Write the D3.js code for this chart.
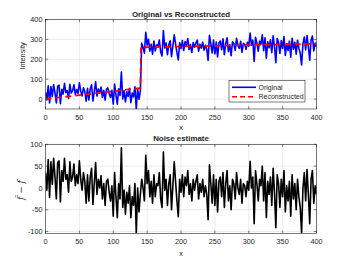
<!DOCTYPE html>
<html>
<head>
<meta charset="utf-8">
<script src="https://cdn.jsdelivr.net/npm/d3@7"></script>
<style>
  body { margin: 0; background: #fff; }
  text { font-family: "Liberation Sans", Arial, sans-serif; fill: #262626; }
</style>
</head>
<body>
<svg id="chart" width="350" height="263"></svg>
<script>
const sampleX = d3.range(0, 401, 2);

// original signal f (blue)
const original = [
  35, -4, 67, -20, 63, 12, 73, 31, -19, 65,
  70, -23, 49, 25, 79, 32, 43, 3, 74, 30,
  41, 72, 22, 48, 29, 82, 40, 16, 57, 38,
  -11, 54, -5, 51, 72, -10, 38, 87, 15, 51,
  31, 60, 8, 44, -5, 50, 56, 27, 8, 44,
  -26, 75, 21, -26, 52, 18, 136, 0, 41, -14,
  37, 13, 54, -18, 30, 11, 62, -51, 53, -1,
  40, 281, 261, 231, 336, 271, 301, 241, 276, 226,
  292, 242, 272, 267, 297, 237, 217, 344, 257, 282,
  223, 273, 293, 213, 268, 323, 278, 233, 197, 283,
  254, 294, 244, 289, 269, 304, 249, 274, 234, 284,
  261, 281, 296, 241, 276, 256, 286, 246, 271, 251,
  194, 320, 277, 232, 297, 227, 287, 212, 282, 292,
  248, 303, 223, 278, 308, 238, 273, 218, 288, 278,
  245, 305, 270, 255, 290, 235, 280, 275, 250, 285,
  266, 332, 271, 296, 189, 311, 281, 241, 291, 276,
  323, 243, 308, 205, 288, 258, 298, 233, 318, 263,
  183, 304, 284, 229, 294, 254, 314, 219, 279, 244,
  291, 211, 306, 251, 286, 226, 296, 256, 231, 172,
  277, 312, 247, 319, 262, 195, 297, 317, 242, 282,
  263
];

// reconstruction (red dashed), piecewise linear
const reconX = [0, 140, 141, 400];
const reconY = [0, 55, 260, 278];

// noise estimate (black)
const noise = [
  35, -5, 65, -22, 60, 8, 68, 25, -25, 58,
  62, -32, 40, 15, 68, 20, 30, -10, 60, 15,
  25, 55, 5, 30, 10, 62, 20, -5, 35, 15,
  -35, 30, -30, 25, 45, -38, 10, 58, -15, 20,
  0, 28, -25, 10, -40, 15, 20, -10, -30, 5,
  -65, 35, -20, -68, 10, -25, 92, -45, -5, -60,
  -10, -35, 5, -68, -20, -40, 10, -104, 0, -55,
  -15, 20, 0, -30, 75, 10, 40, -20, 15, -35,
  30, -20, 10, 5, 35, -25, -45, 82, -5, 20,
  -40, 10, 30, -50, 5, 60, 15, -30, -66, 20,
  -10, 30, -20, 25, 5, 40, -15, 10, -30, 20,
  -5, 15, 30, -25, 10, -10, 20, -20, 5, -15,
  -73, 53, 10, -35, 30, -40, 20, -55, 15, 25,
  -20, 35, -45, 10, 40, -30, 5, -50, 20, 10,
  -25, 35, 0, -15, 20, -35, 10, 5, -20, 15,
  -5, 61, 0, 25, -82, 40, 10, -30, 20, 5,
  50, -30, 35, -68, 15, -15, 25, -40, 45, -10,
  -91, 30, 10, -45, 20, -20, 40, -55, 5, -30,
  15, -65, 30, -25, 10, -50, 20, -20, -45, -104,
  0, 35, -30, 42, -15, -82, 20, 40, -35, 5,
  -15
];

const xTicks = [0, 50, 100, 150, 200, 250, 300, 350, 400];
const topYTicks = [0, 100, 200, 300, 400];
const botYTicks = [-100, -50, 0, 50, 100];
const legendLabels = ['Original', 'Reconstructed'];

// --- layout ---
const svg = d3.select('#chart');
const x = d3.scaleLinear().domain([0, 400]).range([45.5, 316.5]);
const yTop = d3.scaleLinear().domain([-50, 400]).range([109, 19.5]);
const yBot = d3.scaleLinear().domain([-104, 100]).range([233.3, 144.3]);

function drawAxes(id, y, yTicks, title, xLabelY) {
  const [y0, y1] = y.range();
  const g = svg.append('g');

  g.append('clipPath').attr('id', id)
    .append('rect')
    .attr('x', x.range()[0]).attr('y', y1)
    .attr('width', x.range()[1] - x.range()[0]).attr('height', y0 - y1);

  // grid
  g.selectAll('.gx').data(xTicks).join('line')
    .attr('x1', d => x(d)).attr('x2', d => x(d))
    .attr('y1', y1).attr('y2', y0)
    .attr('stroke', '#e3e3e3').attr('stroke-width', 0.7);
  g.selectAll('.gy').data(yTicks).join('line')
    .attr('x1', x.range()[0]).attr('x2', x.range()[1])
    .attr('y1', d => y(d)).attr('y2', d => y(d))
    .attr('stroke', '#e3e3e3').attr('stroke-width', 0.7);

  const plot = g.append('g').attr('clip-path', `url(#${id})`);

  // box + inward ticks
  const axG = g.append('g');
  axG.append('rect')
    .attr('x', x.range()[0]).attr('y', y1)
    .attr('width', x.range()[1] - x.range()[0]).attr('height', y0 - y1)
    .attr('fill', 'none').attr('stroke', '#262626').attr('stroke-width', 0.6);
  const tl = 2.7;
  xTicks.forEach(d => {
    axG.append('line').attr('x1', x(d)).attr('x2', x(d)).attr('y1', y0).attr('y2', y0 - tl)
      .attr('stroke', '#262626').attr('stroke-width', 0.6);
    axG.append('line').attr('x1', x(d)).attr('x2', x(d)).attr('y1', y1).attr('y2', y1 + tl)
      .attr('stroke', '#262626').attr('stroke-width', 0.6);
  });
  yTicks.forEach(d => {
    axG.append('line').attr('x1', x.range()[0]).attr('x2', x.range()[0] + tl).attr('y1', y(d)).attr('y2', y(d))
      .attr('stroke', '#262626').attr('stroke-width', 0.6);
    axG.append('line').attr('x1', x.range()[1]).attr('x2', x.range()[1] - tl).attr('y1', y(d)).attr('y2', y(d))
      .attr('stroke', '#262626').attr('stroke-width', 0.6);
  });

  // tick labels
  g.selectAll('.xl').data(xTicks).join('text')
    .attr('x', d => x(d)).attr('y', y0 + 11)
    .attr('text-anchor', 'middle').attr('font-size', 7.3)
    .text(d => String(d));
  g.selectAll('.yl').data(yTicks).join('text')
    .attr('x', x.range()[0] - 3).attr('y', d => y(d) + 2.6)
    .attr('text-anchor', 'end').attr('font-size', 7.3)
    .text(d => String(d));

  g.append('text')
    .attr('x', (x.range()[0] + x.range()[1]) / 2).attr('y', y1 - 3)
    .attr('text-anchor', 'middle').attr('font-size', 7.9).attr('font-weight', 'bold')
    .attr('fill', '#000')
    .text(title);
  g.append('text')
    .attr('x', 181).attr('y', xLabelY)
    .attr('text-anchor', 'middle').attr('font-size', 7.3)
    .text('x');

  return plot;
}

// --- top panel ---
const topPlot = drawAxes('clipTop', yTop, topYTicks, 'Original vs Reconstructed', 129.5);
topPlot.append('path')
  .datum(sampleX.map((d, i) => [d, original[i]]))
  .attr('fill', 'none').attr('stroke', '#0000ff').attr('stroke-width', 1.6)
  .attr('stroke-linejoin', 'round')
  .attr('d', d3.line().x(d => x(d[0])).y(d => yTop(d[1])));
topPlot.append('path')
  .datum(reconX.map((d, i) => [d, reconY[i]]))
  .attr('fill', 'none').attr('stroke', '#ff0000').attr('stroke-width', 1.8)
  .attr('stroke-dasharray', '6,4')
  .attr('d', d3.line().x(d => x(d[0])).y(d => yTop(d[1])));

svg.append('text')
  .attr('transform', 'translate(25,56) rotate(-90)')
  .attr('text-anchor', 'middle').attr('font-size', 7.3)
  .text('Intensity');

// legend
const leg = svg.append('g');
leg.append('rect').attr('x', 229).attr('y', 80.5).attr('width', 76).attr('height', 21.5)
  .attr('fill', '#fff').attr('stroke', '#262626').attr('stroke-width', 0.6);
const legRows = [
  { y: 87.3, color: '#0000ff', dash: null, w: 1.6 },
  { y: 96.7, color: '#ff0000', dash: '5,3', w: 1.6 }
];
legRows.forEach((r, i) => {
  leg.append('line').attr('x1', 232).attr('x2', 256).attr('y1', r.y).attr('y2', r.y)
    .attr('stroke', r.color).attr('stroke-width', r.w)
    .attr('stroke-dasharray', r.dash);
  leg.append('text').attr('x', 258.5).attr('y', r.y + 2.5).attr('font-size', 7)
    .text(legendLabels[i]);
});

// --- bottom panel ---
const botPlot = drawAxes('clipBot', yBot, botYTicks, 'Noise estimate', 255.5);
botPlot.append('path')
  .datum(sampleX.map((d, i) => [d, noise[i]]))
  .attr('fill', 'none').attr('stroke', '#000').attr('stroke-width', 1.6)
  .attr('stroke-linejoin', 'round')
  .attr('d', d3.line().x(d => x(d[0])).y(d => yBot(d[1])));

svg.append('text')
  .attr('transform', 'translate(24,190) rotate(-90)')
  .attr('text-anchor', 'middle').attr('font-size', 9)
  .attr('font-style', 'italic')
  .style('font-family', '"DejaVu Serif", "Liberation Serif", serif')
  .text('f\u0302 \u2212 f');
</script>
</body>
</html>
